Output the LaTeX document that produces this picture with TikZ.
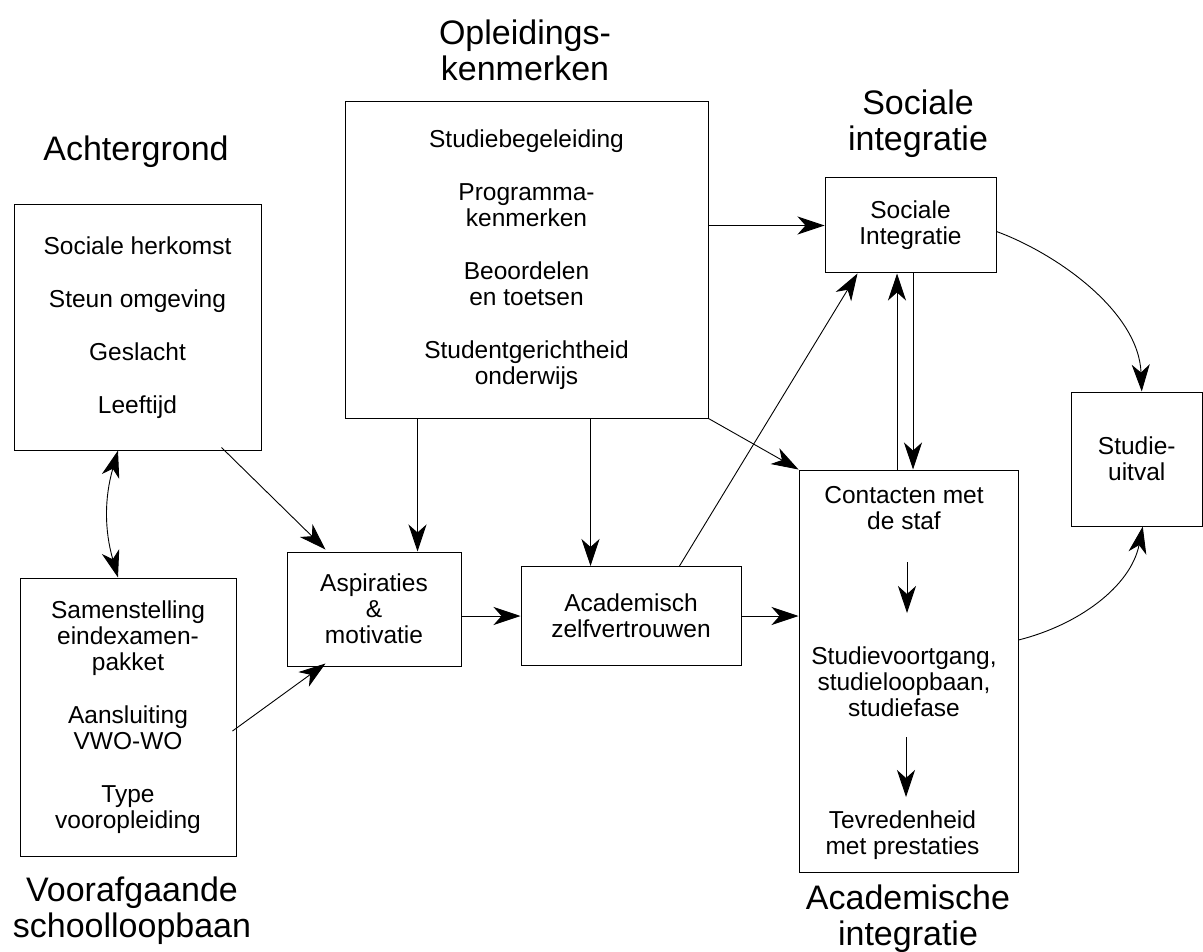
\documentclass[tikz,border=0pt]{standalone}
\usepackage{fontspec}
\setmainfont{Liberation Sans}
\usepackage{tikz}
\usetikzlibrary{arrows,arrows.meta,positioning,calc}
\newcommand{\tekstfont}{\fontsize{24.5}{26}\selectfont}
\newcommand{\kopfont}{\fontsize{34}{36}\selectfont}
\tikzstyle{blok}=[rectangle, draw=black, line width=1pt, inner sep=0pt,
                  align=center, font=\tekstfont]
\tikzstyle{tekst}=[align=center, inner sep=0pt, font=\tekstfont]
\tikzstyle{kop}  =[align=center, inner sep=0pt, font=\kopfont]
\tikzstyle{pijl} =[-{Stealth[length=27pt,width=18pt,inset=8pt]}, line width=0.9pt]

\begin{document}
\begin{tikzpicture}[x=1pt, y=-1pt]
  \useasboundingbox[fill=white] (0,0) rectangle (1203,952);

  % ── titles ──────────────────────────────────────────────────────────────────
  \node[kop] (tachter) at (136,152)   {Achtergrond};
  \node[kop] (tvoor)   at (132,911)   {Voorafgaande\\schoolloopbaan};
  \node[kop] (topl)    at (525,50)    {Opleidings-\\kenmerken};
  \node[kop] (tsoc)    at (918,124)   {Sociale\\integratie};
  \node[kop] (tai)     at (908,919)   {Academische\\integratie};

  % ── boxes at explicit coordinates ──────────────────────────────────────────
  \node[blok, minimum width=247, minimum height=245] (achter) at (137.5,327.5)
    {Sociale herkomst\\[27pt]Steun omgeving\\[27pt]Geslacht\\[27pt]Leeftijd};
  \node[blok, minimum width=216, minimum height=278] (voor) at (128,717)
    {Samenstelling\\eindexamen-\\pakket\\[27pt]Aansluiting\\VWO-WO\\[27pt]Type\\vooropleiding};
  \node[blok, minimum width=363, minimum height=316] (opl) at (526.5,260)
    {Studiebegeleiding\\[27pt]Programma-\\kenmerken\\[27pt]Beoordelen\\en toetsen\\[27pt]Studentgerichtheid\\onderwijs};
  \node[blok, minimum width=171, minimum height=95] (soc) at (910.5,225.5)
    {Sociale\\Integratie};
  \node[blok, minimum width=131.5, minimum height=134] (uitval) at (1136.75,459)
    {Studie-\\uitval};
  \node[blok, minimum width=174, minimum height=114] (asp) at (374,609)
    {Aspiraties\\\&\\motivatie};
  \node[blok, minimum width=220, minimum height=99] (acad) at (631,616)
    {Academisch\\zelfvertrouwen};
  \node[blok, minimum width=219, minimum height=402] (ai) at (908.5,671) {};

  % ── inside the academic box ───────────────────────────────────────────────
  \node[tekst] (contact)   at (904,508.5) {Contacten met\\de staf};
  \node[tekst] (voortgang) at (904,682)   {Studievoortgang,\\studieloopbaan,\\studiefase};
  \node[tekst] (tevreden)  at (902.5,835) {Tevredenheid\\met prestaties};

  \draw[pijl] ($(contact)+(3,53.5)$)  -- ($(voortgang)+(3,-69)$);
  \draw[pijl] ($(voortgang)+(2,55)$)  -- ($(tevreden)+(3.5,-38)$);

  % ── connectors ──────────────────────────────────────────────────────────────
  \draw[pijl, {Stealth[length=27pt,width=18pt,inset=8pt]}-{Stealth[length=27pt,width=18pt,inset=8pt]}]
    ([xshift=-19.5pt]achter.south) to[bend right=16] ([xshift=-10pt]voor.north);
  \draw[pijl] ($(achter.south east)+(-40,-3)$) -- ($(asp.north west)+(39,-2)$);
  \draw[pijl] ($(voor.east)+(-4,14)$)          -- ($(asp.south west)+(39,-3)$);
  \draw[pijl] ($(opl.south west)+(73,0)$)      -- ($(asp.north west)+(131,0)$);
  \draw[pijl] ($(opl.south west)+(246,0)$)     -- ($(acad.north west)+(70,0)$);
  \draw[pijl] (opl.east |- soc.west)           -- (soc.west);
  \draw[pijl] (opl.south east)                 -- (ai.north west);
  \draw[pijl] ($(acad.north west)+(159,0)$)    -- ($(soc.south west)+(33,0)$);
  \draw[pijl] (asp.east |- acad.west)          -- (acad.west);
  \draw[pijl] (acad.east)                      -- (acad.east -| ai.west);
  \draw[pijl] ([xshift=-11.5pt]ai.north)       -- ([xshift=-11.5pt]ai.north |- soc.south);
  \draw[pijl] ([xshift=4.5pt]ai.north |- soc.south) -- ([xshift=4.5pt]ai.north);

  % ── curved arrows into Studie-uitval ───────────────────────────────────────
  \draw[pijl] ($(soc.east)+(0,6)$)
    .. controls +(60,22) and +(-3,-80) .. ($(uitval.north)+(5,0)$);
  \draw[pijl] ($(ai.east)+(0,-31)$)
    .. controls +(60,-15) and +(-12,60) .. ($(uitval.south)+(6,0)$);

\end{tikzpicture}
\end{document}
